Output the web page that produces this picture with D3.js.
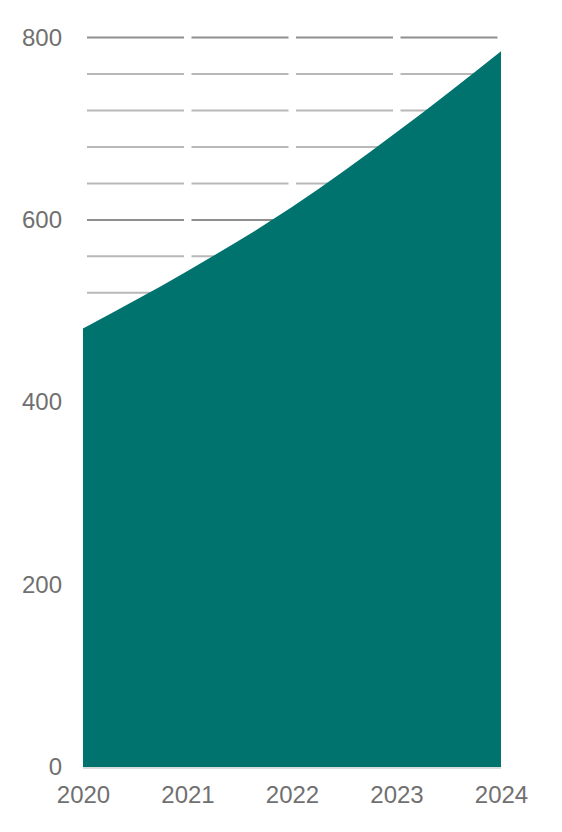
<!DOCTYPE html>
<html>
<head>
<meta charset="utf-8">
<script src="https://cdn.jsdelivr.net/npm/d3@7"></script>
<style>
  html, body { margin: 0; padding: 0; background: #fff; }
  svg { display: block; }
  text { font-family: "Liberation Sans", Arial, sans-serif; }
</style>
</head>
<body>
<svg id="chart" width="562" height="832"></svg>
<script>
const years = ["2020", "2021", "2022", "2023", "2024"];
const values = [481, 544, 614, 696, 785];
const yTicks = [0, 200, 400, 600, 800];
const gridValues = [40, 80, 120, 160, 200, 240, 280, 320, 360, 400, 440, 480, 520, 560, 600, 640, 680, 720, 760, 800];

const svg = d3.select("#chart");
const x = d3.scalePoint().domain(years).range([83, 501]);
const y = d3.scaleLinear().domain([0, 800]).range([767, 37.5]);

// gridlines broken into segments between categories
const segs = [];
for (let i = 0; i < years.length - 1; i++) {
  const a = x(years[i]) + 4, b = x(years[i + 1]) - 3.5;
  gridValues.forEach(v => segs.push({ v, a, b }));
}
svg.append("g").selectAll("line").data(segs).join("line")
  .attr("x1", d => d.a).attr("x2", d => d.b)
  .attr("y1", d => y(d.v)).attr("y2", d => y(d.v))
  .attr("stroke", d => d.v % 200 === 0 ? "#8e8e8e" : "#b8b8b8")
  .attr("stroke-width", 2);

// area
const data = years.map((yr, i) => ({ yr, v: values[i] }));
const area = d3.area()
  .x(d => x(d.yr))
  .y0(y(0))
  .y1(d => y(d.v))
  .curve(d3.curveMonotoneX);
svg.append("path").datum(data).attr("d", area).attr("fill", "#00736f");

// baseline
svg.append("line")
  .attr("x1", x(years[0])).attr("x2", x(years[years.length - 1]))
  .attr("y1", y(0) + 1).attr("y2", y(0) + 1)
  .attr("stroke", "#cdd5d5").attr("stroke-width", 1.5);

// y axis labels
const yAxis = d3.axisLeft(y).tickValues(yTicks).tickSize(0).tickPadding(0);
const gy = svg.append("g").attr("transform", "translate(62,0)").call(yAxis);
gy.select(".domain").remove();
gy.selectAll("text").attr("font-size", 24).attr("fill", "#707070")
  .attr("font-family", "'Liberation Sans', Arial, sans-serif");

// x axis labels
const xAxis = d3.axisBottom(x).tickSize(0).tickPadding(0);
const gx = svg.append("g").attr("transform", "translate(0,786)").call(xAxis);
gx.select(".domain").remove();
gx.selectAll("text").attr("font-size", 24).attr("fill", "#707070").attr("dy", "0.72em")
  .attr("font-family", "'Liberation Sans', Arial, sans-serif");
</script>
</body>
</html>
